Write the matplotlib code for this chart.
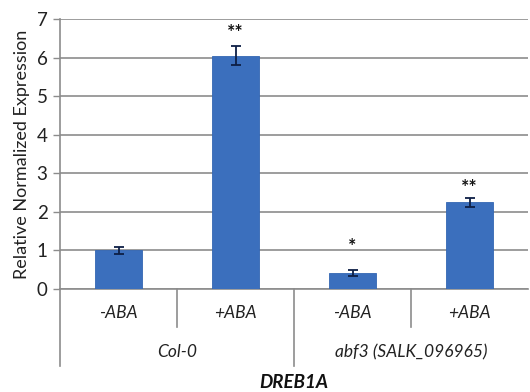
import matplotlib
matplotlib.use("Agg")
import matplotlib.pyplot as plt
from matplotlib.transforms import blended_transform_factory, offset_copy

# ---- data ----
conditions = ['-ABA', '+ABA', '-ABA', '+ABA']
genotypes = ['Col-0', 'abf3 (SALK_096965)']
gene = 'DREB1A'
expression = [1.0, 6.05, 0.42, 2.25]
errors = [0.10, 0.25, 0.07, 0.12]
signif = ['', '**', '*', '**']
signif_y = [0, 6.8, 1.27, 2.78]
yticks = [0, 1, 2, 3, 4, 5, 6, 7]

plt.rcParams['font.family'] = ['Lato', 'DejaVu Sans']

fig = plt.figure(figsize=(5.30, 3.92), dpi=100)
ax = fig.add_axes([60/530, 1-289/392, 468/530, 270/392])

x = list(range(len(expression)))
ax.bar(x, expression, width=0.40, color='#3b6fbd', edgecolor='#3366b3', linewidth=0.6, zorder=3)
ax.errorbar(x, expression, yerr=errors, fmt='none', ecolor='#0d1f45', elinewidth=1.3,
            capsize=3.5, capthick=1.3, zorder=4)
star_tr = offset_copy(ax.transData, fig=fig, x=0, y=-6, units='dots')
for xi, s, sy in zip(x, signif, signif_y):
    if s:
        ax.text(xi, sy, s, transform=star_tr, ha='center', va='center', fontsize=14,
                fontweight='bold', color='#111111', zorder=5)

ax.set_xlim(-0.5, len(expression) - 0.5)
ax.set_ylim(0, 7)
ax.set_yticks(yticks)
ax.set_yticklabels([str(t) for t in yticks], fontsize=13.5, color='#222222')
ax.yaxis.grid(True, color='#8c8c8c', linewidth=1.2, zorder=0)
ax.set_axisbelow(True)
ax.tick_params(axis='y', length=5, width=1.0, color='#8c8c8c', pad=4)
ax.set_xticks([])
for sp in ['top', 'right']:
    ax.spines[sp].set_visible(False)
for sp in ['left', 'bottom']:
    ax.spines[sp].set_color('#8c8c8c')
    ax.spines[sp].set_linewidth(1.2)

ax.set_ylabel('Relative Normalized Expression', fontsize=13, color='#222222', labelpad=5)

tr = blended_transform_factory(ax.transData, fig.transFigure)
y_axis = 1 - 289/392
y_cond = 1 - 313/392
y_geno = 1 - 352/392
y_gene = 1 - 382/392
y_short = 1 - 327/392
y_long = 1 - 366/392

for xi, c in zip(x, conditions):
    ax.text(xi, y_cond, c, transform=tr, ha='center', va='center', fontsize=12.5,
            style='italic', color='#222222')
n_per = len(conditions) // len(genotypes)
for gi, g in enumerate(genotypes):
    center = gi * n_per + (n_per - 1) / 2
    ax.text(center, y_geno, g, transform=tr, ha='center', va='center', fontsize=12.5,
            style='italic', color='#222222')
    ax.plot([gi * n_per - 0.5] * 2, [y_axis, y_long], transform=tr, color='#8c8c8c',
            linewidth=1.2, clip_on=False)
    for k in range(1, n_per):
        ax.plot([gi * n_per + k - 0.5] * 2, [y_axis, y_short], transform=tr, color='#8c8c8c',
                linewidth=1.2, clip_on=False)

ax.text((len(conditions) - 1) / 2, y_gene, gene, transform=tr, ha='center', va='center',
        fontsize=13.5, style='italic', fontweight='bold', color='#111111')

fig.savefig('out.png', dpi=100)
